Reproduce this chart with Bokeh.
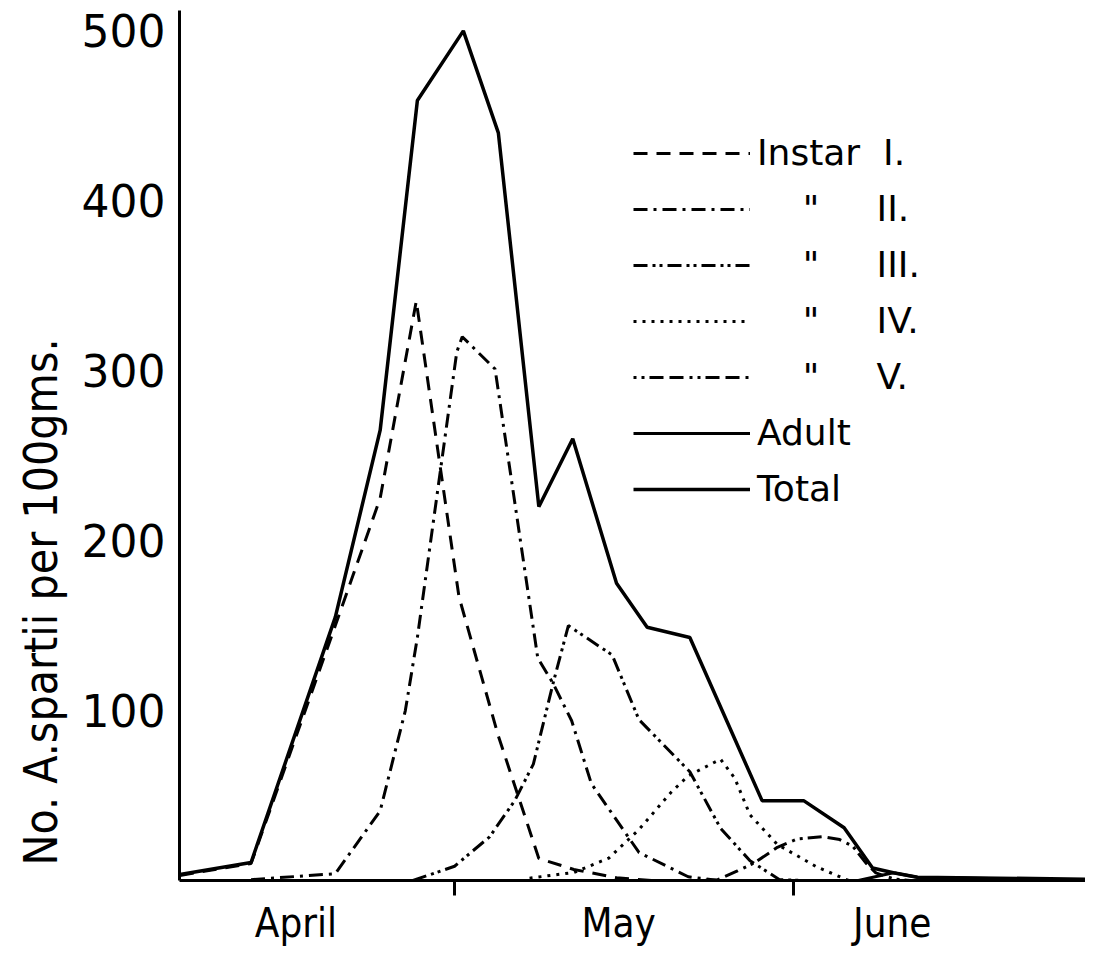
from bokeh.plotting import figure
from bokeh.models import Range1d, FixedTicker, Legend, LegendItem, Title
from bokeh.embed import file_html
from bokeh.resources import INLINE

# x = days counted from 1 April (day 30 = 1 May, day 61 = 1 June)
total_day = [4.9, 11.4, 19.1, 23.2, 26.6, 30.8, 34.0, 37.7, 40.8, 44.8, 47.6, 51.5, 58.1, 61.9, 65.6, 68.2, 70.1, 72.3, 87.7]
total_val = [3.5, 10.6, 155, 265, 459, 500, 440, 220, 260, 175, 149, 143, 47, 47, 31, 7.4, 4.6, 1.9, 0.8]

adult_day = [4.9, 66.9, 70.1, 72.3, 87.7]
adult_val = [0, 0, 4.6, 1.9, 0.3]

i1_day = [4.9, 11.4, 19.1, 23.2, 26.5, 30.4, 34.0, 37.7, 40.9, 44.8, 48.0]
i1_val = [3, 10, 150, 225, 341, 167, 85, 13, 6.5, 1.6, 0]

i2_day = [11.4, 19.1, 23.2, 25.5, 26.6, 30.2, 30.7, 33.7, 37.6, 39.0, 40.7, 42.5, 46.85, 51.35, 54.05]
i2_val = [0.5, 4, 41, 100, 143, 311, 320, 301, 131, 116, 94, 57, 16.5, 2.2, 0]

i3_day = [26.2, 30.0, 33.2, 35.5, 37.2, 39.0, 40.4, 44.4, 46.85, 51.5, 54.3, 57.0, 59.7, 61.9]
i3_val = [0, 8.4, 25.7, 47, 68.5, 116, 150, 132.7, 94.7, 64, 30.8, 11.6, 0.5, 0]

i4_day = [36.85, 40.9, 44.1, 46.85, 49.8, 51.35, 54.3, 55.6, 57.0, 59.5, 63.1, 66.0]
i4_val = [1.4, 4.7, 13.2, 30, 52, 61.6, 71.4, 60.3, 38.6, 21.2, 8, 0]

i5_day = [51.5, 54.05, 55.85, 57.4, 59.5, 61.3, 63.7, 65.2, 66.4, 67.6, 68.5, 70.1, 71.6]
i5_val = [0, 0.5, 5.6, 10.4, 19.5, 24.4, 25.8, 24.1, 20.1, 10.2, 4.5, 1, 0]

y_ticks = [100, 200, 300, 400, 500]
month_pos = [15.5, 45.0, 70.0]
month_names = ["April", "May", "June"]
month_bounds = [30, 61]

y_title = "No. A.spartii per 100gms."
legend_labels = [
    "Instar\u00a0\u00a0I.",
    "\u00a0\u00a0\u00a0\u00a0\"\u00a0\u00a0\u00a0\u00a0\u00a0II.",
    "\u00a0\u00a0\u00a0\u00a0\"\u00a0\u00a0\u00a0\u00a0\u00a0III.",
    "\u00a0\u00a0\u00a0\u00a0\"\u00a0\u00a0\u00a0\u00a0\u00a0IV.",
    "\u00a0\u00a0\u00a0\u00a0\"\u00a0\u00a0\u00a0\u00a0\u00a0V.",
    "Adult",
    "Total",
]

FONT = "DejaVu Sans"
COND = "DejaVu Sans Condensed"

p = figure(width=1085, height=950, output_backend="svg", toolbar_location=None,
           x_range=Range1d(4.86, 87.66), y_range=Range1d(0, 512),
           min_border_left=174, min_border_top=10, min_border_right=0, min_border_bottom=70)
p.outline_line_color = None
p.grid.visible = False
p.background_fill_color = "white"

lw = 3
r1 = p.line(i1_day, i1_val, line_color="black", line_width=lw, line_dash="14 9")
r2 = p.line(i2_day, i2_val, line_color="black", line_width=lw, line_dash="14 6 3 6")
r3 = p.line(i3_day, i3_val, line_color="black", line_width=lw, line_dash="14 5 3 4 3 5")
r4 = p.line(i4_day, i4_val, line_color="black", line_width=lw, line_dash="3 6")
r5 = p.line(i5_day, i5_val, line_color="black", line_width=lw, line_dash="3 5 3 5 14 6 14 6")
ra = p.line(adult_day, adult_val, line_color="black", line_width=3)
rt = p.line(total_day, total_val, line_color="black", line_width=3.5)

# y axis
p.yaxis.ticker = FixedTicker(ticks=y_ticks)
p.yaxis.major_tick_out = 0
p.yaxis.major_tick_in = 0
p.yaxis.minor_tick_line_color = None
p.yaxis.axis_line_width = 3
p.yaxis.axis_line_color = "black"
p.yaxis.major_label_text_font = FONT
p.yaxis.major_label_text_font_size = "44px"
p.yaxis.major_label_text_color = "black"
p.yaxis.major_label_standoff = 14

ytitle = Title(text=y_title, align="left", offset=15, standoff=22,
               text_font=COND, text_font_size="46px", text_font_style="normal",
               text_color="black")
p.add_layout(ytitle, "left")

# x axis
p.xaxis.ticker = FixedTicker(ticks=month_pos, minor_ticks=month_bounds)
p.xaxis.major_label_overrides = {k: v for k, v in zip(month_pos, month_names)}
p.xaxis.major_tick_line_color = None
p.xaxis.minor_tick_out = 15
p.xaxis.minor_tick_in = 0
p.xaxis.minor_tick_line_width = 3
p.xaxis.minor_tick_line_color = "black"
p.xaxis.axis_line_width = 3
p.xaxis.axis_line_color = "black"
p.xaxis.major_label_text_font = COND
p.xaxis.major_label_text_font_size = "40px"
p.xaxis.major_label_text_color = "black"
p.xaxis.major_label_standoff = 4

legend = Legend(
    items=[LegendItem(label=l, renderers=[r]) for l, r in
           zip(legend_labels, [r1, r2, r3, r4, r5, ra, rt])],
    location=(454, 371), glyph_width=117, glyph_height=40, label_height=40,
    spacing=15, padding=0, margin=0, label_standoff=7,
    border_line_color=None, background_fill_alpha=0,
    label_text_font=FONT, label_text_font_size="36px", label_text_color="black",
)
p.add_layout(legend)

open("out.html", "w").write(file_html(p, INLINE))
